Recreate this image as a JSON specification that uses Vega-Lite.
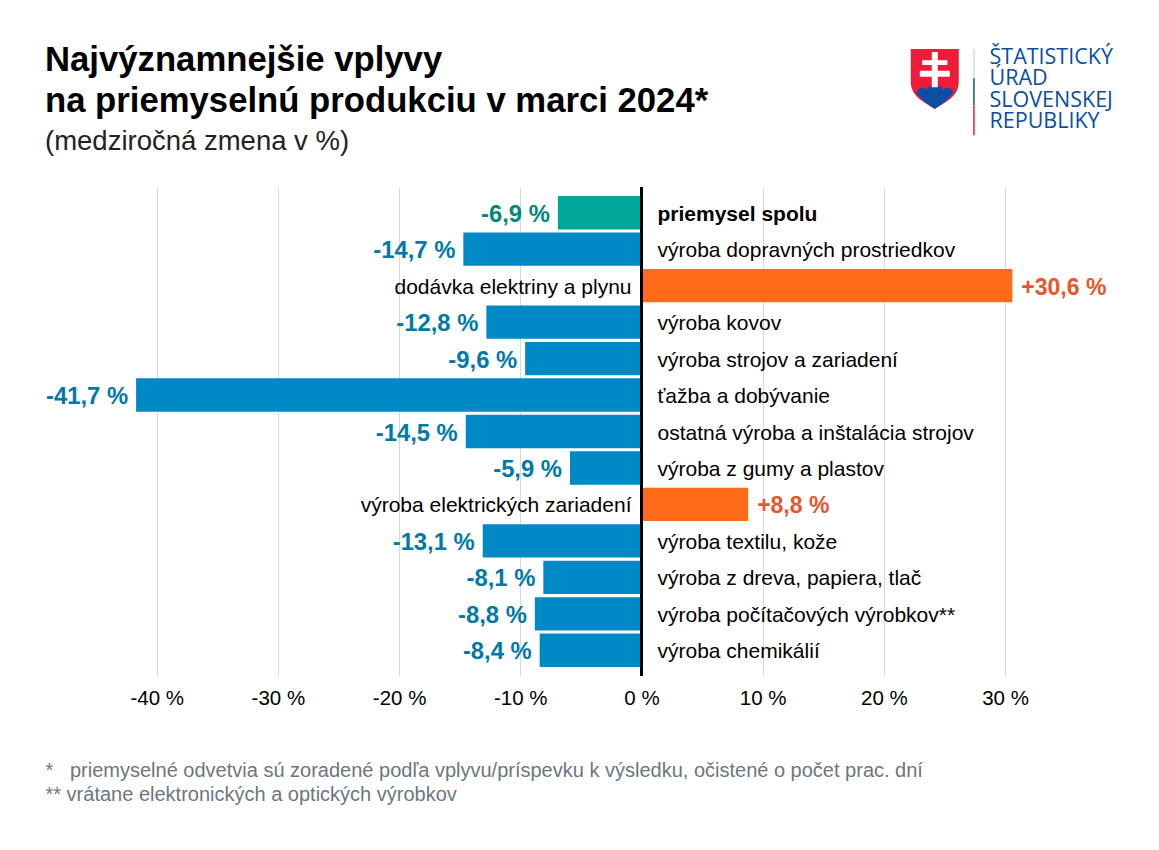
{
"$schema":"https://vega.github.io/schema/vega-lite/v6.json",
"width":1159,"height":489,
"autosize":{"type":"none"},
"padding":{"left":0,"right":0,"top":187,"bottom":174},
"background":"white",
"config":{"view":{"stroke":null},"font":"Liberation Sans"},
"title":{"text":["Najvýznamnejšie vplyvy","na priemyselnú produkciu v marci 2024*"],"subtitle":"(medziročná zmena v %)","anchor":"start","frame":"group","dx":45,"offset":-110,"font":"Liberation Sans","fontSize":34.7,"fontWeight":"bold","color":"#000000","lineHeight":41,"subtitleFont":"Liberation Sans","subtitleFontSize":27.5,"subtitleColor":"#222222","subtitlePadding":8},
"data":{"values":[
{"odvetvie":"priemysel spolu","zmena":-6.9,"popis":"-6,9 %","typ":"spolu"},
{"odvetvie":"výroba dopravných prostriedkov","zmena":-14.7,"popis":"-14,7 %","typ":"pokles"},
{"odvetvie":"dodávka elektriny a plynu","zmena":30.6,"popis":"+30,6 %","typ":"rast"},
{"odvetvie":"výroba kovov","zmena":-12.8,"popis":"-12,8 %","typ":"pokles"},
{"odvetvie":"výroba strojov a zariadení","zmena":-9.6,"popis":"-9,6 %","typ":"pokles"},
{"odvetvie":"ťažba a dobývanie","zmena":-41.7,"popis":"-41,7 %","typ":"pokles"},
{"odvetvie":"ostatná výroba a inštalácia strojov","zmena":-14.5,"popis":"-14,5 %","typ":"pokles"},
{"odvetvie":"výroba z gumy a plastov","zmena":-5.9,"popis":"-5,9 %","typ":"pokles"},
{"odvetvie":"výroba elektrických zariadení","zmena":8.8,"popis":"+8,8 %","typ":"rast"},
{"odvetvie":"výroba textilu, kože","zmena":-13.1,"popis":"-13,1 %","typ":"pokles"},
{"odvetvie":"výroba z dreva, papiera, tlač","zmena":-8.1,"popis":"-8,1 %","typ":"pokles"},
{"odvetvie":"výroba počítačových výrobkov**","zmena":-8.8,"popis":"-8,8 %","typ":"pokles"},
{"odvetvie":"výroba chemikálií","zmena":-8.4,"popis":"-8,4 %","typ":"pokles"}
]},
"encoding":{
"y":{"field":"odvetvie","type":"nominal","sort":null,
"scale":{"domain":["priemysel spolu","výroba dopravných prostriedkov","dodávka elektriny a plynu","výroba kovov","výroba strojov a zariadení","ťažba a dobývanie","ostatná výroba a inštalácia strojov","výroba z gumy a plastov","výroba elektrických zariadení","výroba textilu, kože","výroba z dreva, papiera, tlač","výroba počítačových výrobkov**","výroba chemikálií"],"paddingInner":0.085,"paddingOuter":0.247},
"axis":{"labels":false,"ticks":false,"domain":false,"grid":false,"title":["ŠTATISTICKÝ","ÚRAD","SLOVENSKEJ","REPUBLIKY"],"titleAngle":0,"titleAlign":"left","titleBaseline":"alphabetic","titleX":989,"titleY":-124,"titleFont":"Open Sans","titleFontSize":21.5,"titleFontWeight":"normal","titleColor":"#0b4ea2","titleLineHeight":21.5}},
"x":{"field":"zmena","type":"quantitative","scale":{"domain":[-52.93,42.7],"nice":false,"zero":false},
"axis":{"values":[-40,-30,-20,-10,0,10,20,30],"labelExpr":"datum.value + ' %'","labelFont":"Liberation Sans","labelFontSize":20.5,"labelColor":"#000000","labelPadding":12,"ticks":false,"domain":false,"grid":true,"gridColor":"#d9d9d9","gridWidth":1,"title":["*\u00a0\u00a0\u00a0priemyselné odvetvia sú zoradené podľa vplyvu/príspevku k výsledku, očistené o počet prac. dní","**\u00a0vrátane elektronických a optických výrobkov"],"titleX":45,"titleY":84,"titleAlign":"left","titleAnchor":"start","titleFont":"Liberation Sans","titleFontSize":20,"titleFontWeight":"normal","titleColor":"#6b7680","titleLineHeight":24}}
},
"layer":[
{"mark":{"type":"bar"},"encoding":{"color":{"field":"typ","type":"nominal","legend":null,"scale":{"domain":["spolu","pokles","rast"],"range":["#00a698","#0089c7","#ff6b19"]}}}},
{"mark":{"type":"rule","color":"#000000","strokeWidth":2},"encoding":{"x":{"datum":0},"y":null}},
{"transform":[{"filter":"datum.zmena < 0"}],"mark":{"type":"text","align":"right","baseline":"middle","dx":-8,"dy":2,"fontSize":23.8,"fontWeight":"bold","font":"Liberation Sans"},"encoding":{"text":{"field":"popis"},"color":{"condition":[{"test":"datum.typ === 'spolu'","value":"#00897a"}],"value":"#0079a8"}}},
{"transform":[{"filter":"datum.zmena > 0"}],"mark":{"type":"text","align":"left","baseline":"middle","dx":9,"dy":2,"fontSize":23,"fontWeight":"bold","font":"Liberation Sans","color":"#e8562a"},"encoding":{"text":{"field":"popis"}}},
{"transform":[{"filter":"datum.zmena < 0 && datum.typ !== 'spolu'"}],"mark":{"type":"text","align":"left","baseline":"middle","dx":16,"dy":2,"fontSize":21,"font":"Liberation Sans","color":"#000000"},"encoding":{"x":{"datum":0},"text":{"field":"odvetvie"}}},
{"transform":[{"filter":"datum.typ === 'spolu'"}],"mark":{"type":"text","align":"left","baseline":"middle","dx":16,"dy":2,"fontSize":21,"fontWeight":"bold","font":"Liberation Sans","color":"#000000"},"encoding":{"x":{"datum":0},"text":{"field":"odvetvie"}}},
{"transform":[{"filter":"datum.zmena > 0"}],"mark":{"type":"text","align":"right","baseline":"middle","dx":-10,"dy":2,"fontSize":21,"font":"Liberation Sans","color":"#000000"},"encoding":{"x":{"datum":0},"text":{"field":"odvetvie"}}},
{"transform":[{"filter":"datum.typ === 'spolu'"}],"mark":{"type":"point","filled":true,"opacity":1,"size":3600,"color":"#ee1c39","shape":"M-0.8,-5.453 L0.8,-5.453 L0.8,-4.353 C0.8,-3.853 0.3,-3.653 0,-3.453 C-0.3,-3.653 -0.8,-3.853 -0.8,-4.353 Z"},"encoding":{"x":{"datum":24.2}}},
{"transform":[{"filter":"datum.typ === 'spolu'"}],"mark":{"type":"point","filled":true,"opacity":1,"size":3600,"color":"#0b4ea2","shape":"M-0.62,-4.003 C-0.55,-4.203 -0.35,-4.203 -0.27,-4.103 C-0.22,-4.303 0.22,-4.303 0.27,-4.103 C0.35,-4.203 0.55,-4.203 0.62,-4.003 C0.45,-3.733 0.2,-3.603 0,-3.453 C-0.2,-3.603 -0.45,-3.733 -0.62,-4.003 Z"},"encoding":{"x":{"datum":24.2}}},
{"transform":[{"filter":"datum.typ === 'spolu'"}],"mark":{"type":"point","filled":true,"opacity":1,"size":3600,"color":"#ffffff","shape":"M-0.1,-5.353 L0.1,-5.353 L0.1,-5.083 L0.42,-5.083 L0.42,-4.923 L0.1,-4.923 L0.1,-4.733 L0.5,-4.733 L0.5,-4.533 L0.1,-4.533 L0.1,-4.183 L-0.1,-4.183 L-0.1,-4.533 L-0.5,-4.533 L-0.5,-4.733 L-0.1,-4.733 L-0.1,-4.923 L-0.42,-4.923 L-0.42,-5.083 L-0.1,-5.083 Z"},"encoding":{"x":{"datum":24.2}}},
{"transform":[{"filter":"datum.typ === 'spolu'"}],"mark":{"type":"point","filled":true,"opacity":1,"size":3600,"color":"#d9d9d9","shape":"M1.28,-5.453 L1.33,-5.453 L1.33,-4.483 L1.28,-4.483 Z"},"encoding":{"x":{"datum":24.2}}},
{"transform":[{"filter":"datum.typ === 'spolu'"}],"mark":{"type":"point","filled":true,"opacity":1,"size":3600,"color":"#0b4ea2","shape":"M1.28,-4.483 L1.33,-4.483 L1.33,-3.583 L1.28,-3.583 Z"},"encoding":{"x":{"datum":24.2}}},
{"transform":[{"filter":"datum.typ === 'spolu'"}],"mark":{"type":"point","filled":true,"opacity":1,"size":3600,"color":"#ee1c39","shape":"M1.28,-3.583 L1.33,-3.583 L1.33,-2.583 L1.28,-2.583 Z"},"encoding":{"x":{"datum":24.2}}}
]
}
